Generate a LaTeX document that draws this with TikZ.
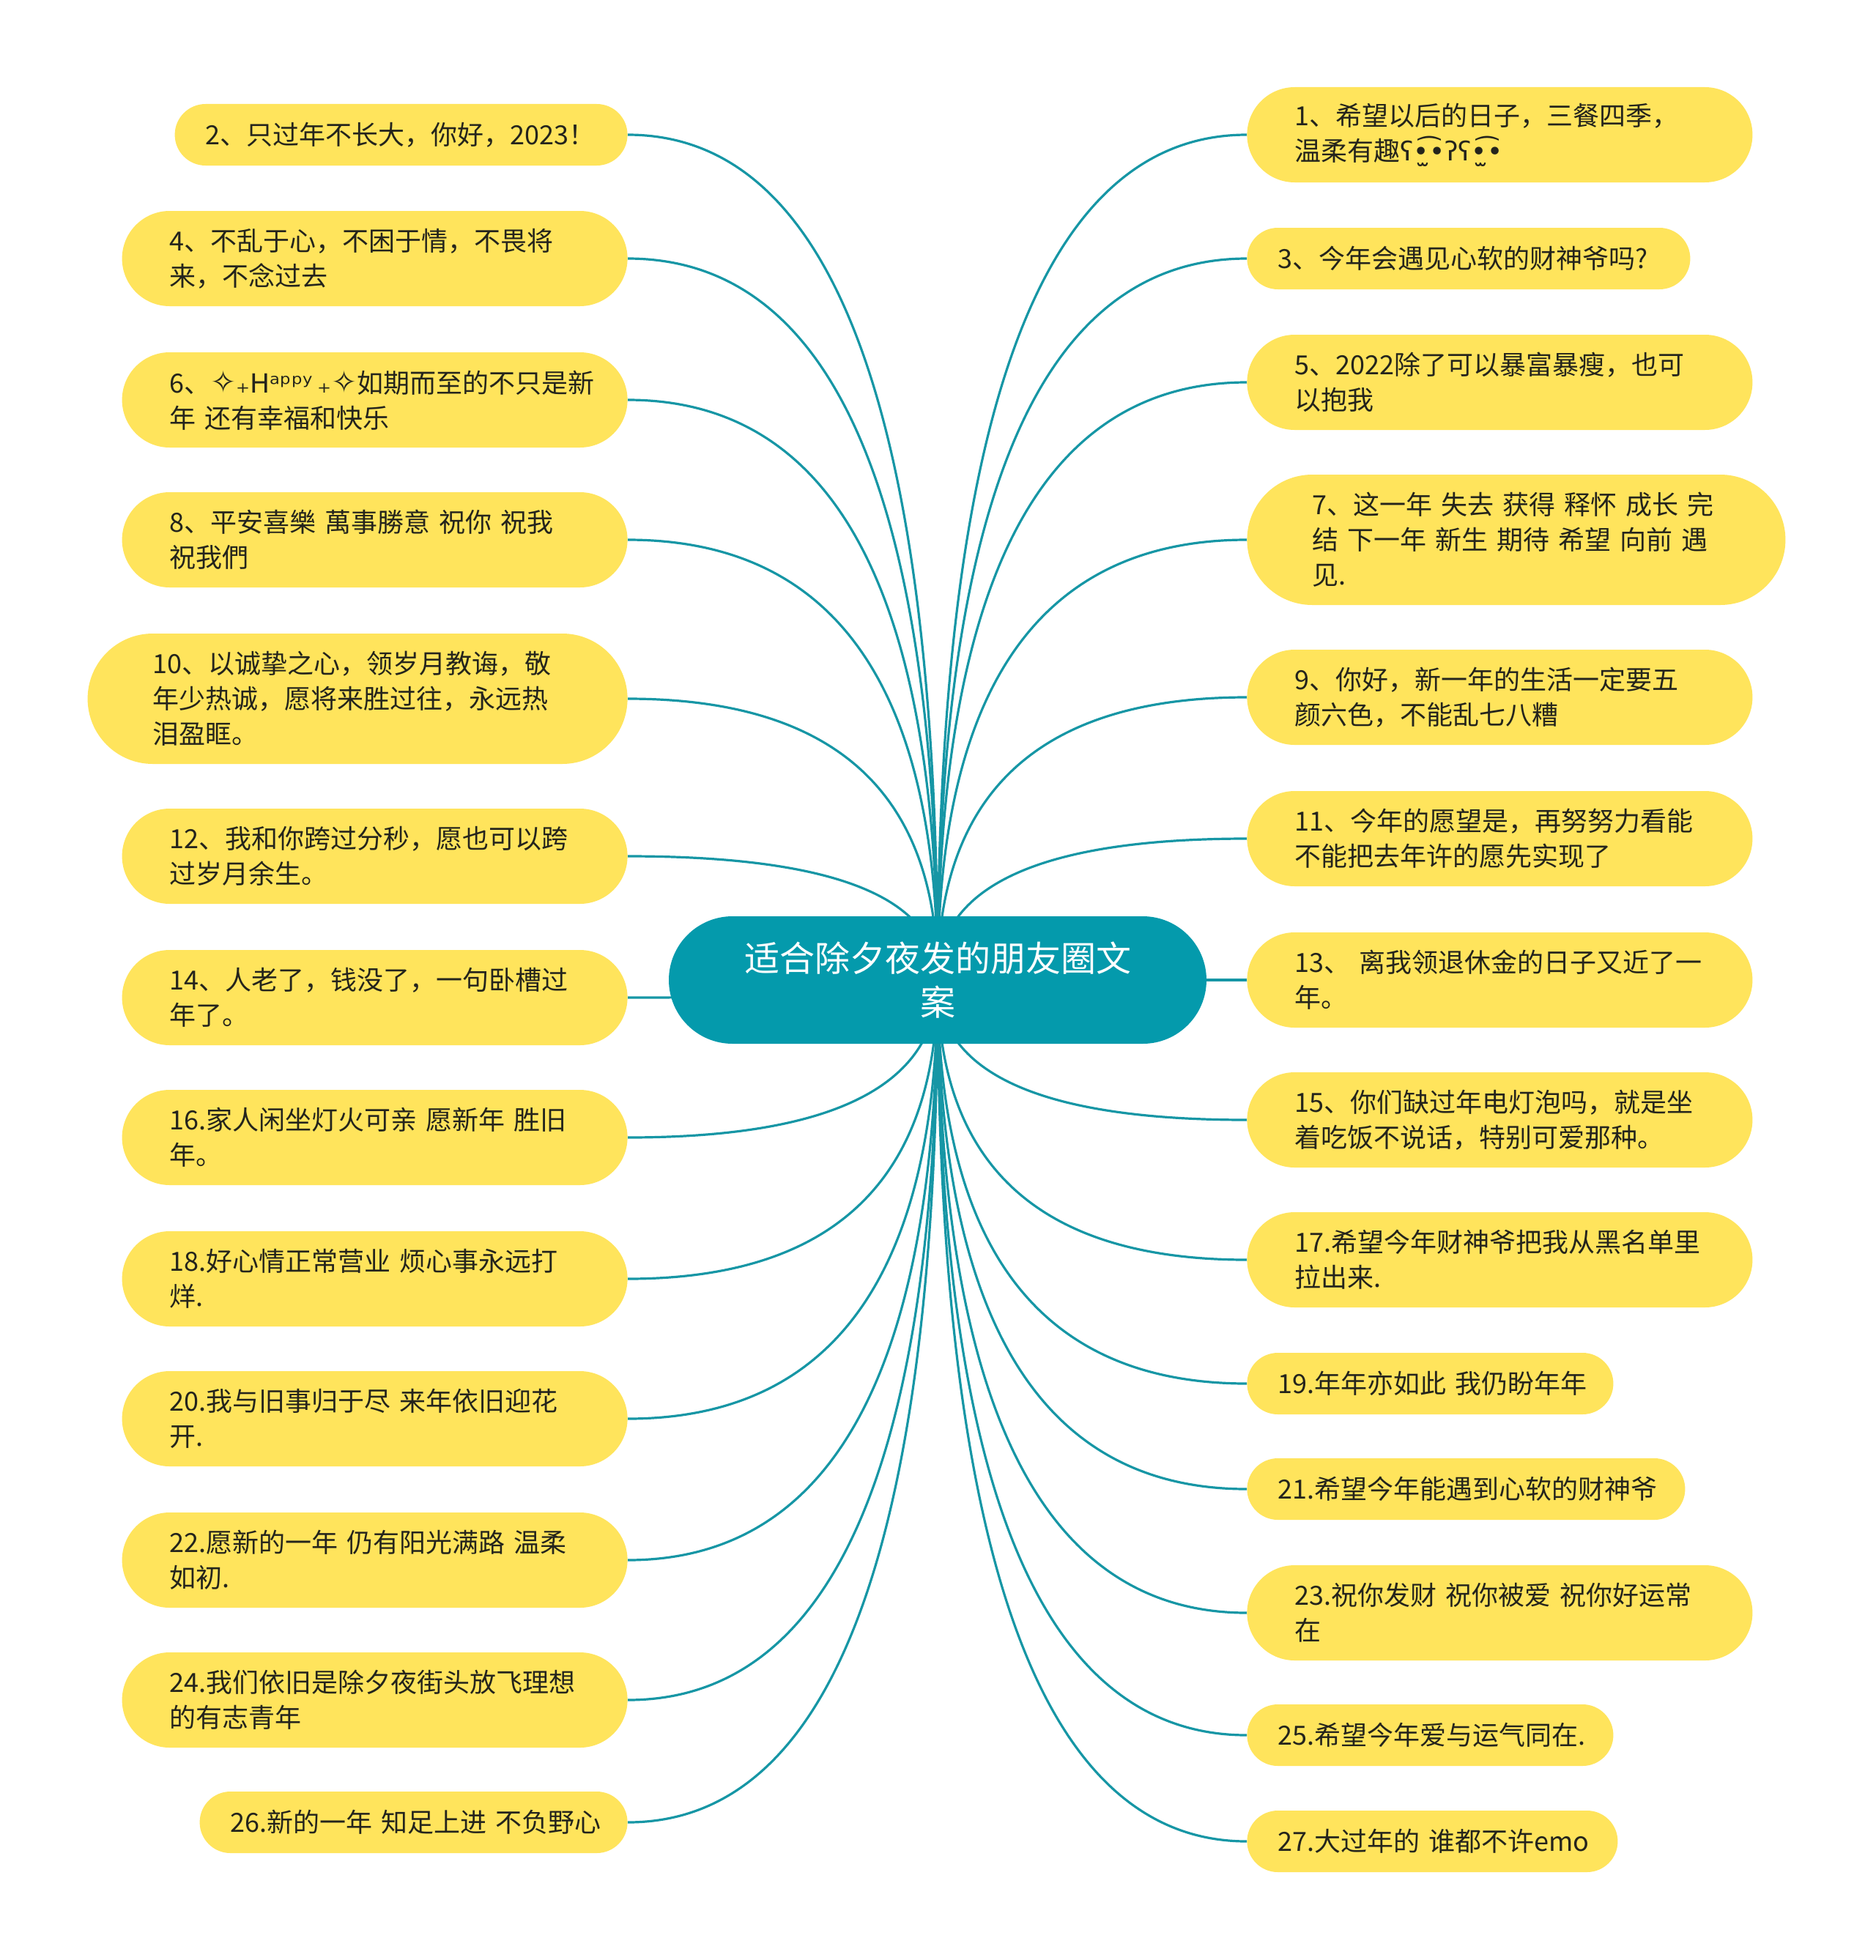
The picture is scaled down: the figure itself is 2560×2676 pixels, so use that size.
\documentclass[tikz,border=0pt]{standalone}
\usepackage{fontspec}
\setmainfont{Noto Sans CJK SC}
\newfontfamily\dejavu{DejaVu Sans}
\usetikzlibrary{calc,backgrounds}
\definecolor{leafyellow}{RGB}{255,228,92}
\definecolor{rootteal}{RGB}{4,154,172}
\definecolor{linkteal}{RGB}{22,150,165}
\definecolor{leaftext}{RGB}{36,36,28}
\tikzset{
  leaf/.style={fill=leafyellow, draw=none, text=leaftext, align=left, inner ysep=0pt,
    font=\fontsize{18}{24}\selectfont},
  rootbox/.style={fill=rootteal, draw=none, text=white, align=center, inner sep=0pt,
    font=\fontsize{24}{30}\selectfont, minimum width=367pt, minimum height=87pt,
    rounded corners=43.5pt},
  link/.style={draw=linkteal, line width=1.6pt}
}
\newcommand\sparkle{{\fontsize{21}{21}\selectfont ✧}}
% #1 name, #2 anchor, #3 x, #4 y, #5 width px, #6 height px, #7 text
\newcommand\mkleaf[7]{%
  \pgfmathsetmacro\lfw{(#5-#6)*0.5}%
  \pgfmathsetmacro\lfh{#6*0.5}%
  \pgfmathsetmacro\lfr{#6*0.25}%
  \node[leaf, anchor=#2, text width=\lfw pt, minimum height=\lfh pt,
    inner xsep=\lfr pt, rounded corners=\lfr pt] (#1) at (#3,#4) {#7};%
}
\newcommand\mklink[2]{%
  \draw[link] (root.center) .. controls ($(root.center)!0.6667!(root.center|-#1.#2)$)
    and ($(#1.#2)!0.6667!(root.center|-#1.#2)$) .. (#1.#2);%
}
\begin{document}
\begin{tikzpicture}[x=0.5pt,y=-0.5pt]
\useasboundingbox (0,0) rectangle (2560,2676);
\node[rootbox] (root) at (1280,1338) {适合除夕夜发的朋友圈文\\案};
% left side
\mkleaf{L2}{east}{857}{184}{618}{84}{2、只过年不长大，你好，2023！}
\mkleaf{L4}{east}{857}{353}{690}{130}{4、不乱于心，不困于情，不畏将\\来，不念过去}
\mkleaf{L6}{east}{857}{546}{690}{130}{6、{\dejavu \sparkle₊Hᵃᵖᵖʸ\,₊\sparkle}如期而至的不只是新\\年~还有幸福和快乐}
\mkleaf{L8}{east}{857}{737}{690}{130}{8、平安喜樂~萬事勝意~祝你~祝我\\祝我們}
\mkleaf{L10}{east}{857}{954}{737}{178}{10、以诚挚之心，领岁月教诲，敬\\年少热诚，愿将来胜过往，永远热\\泪盈眶。}
\mkleaf{L12}{east}{857}{1169}{690}{130}{12、我和你跨过分秒，愿也可以跨\\过岁月余生。}
\mkleaf{L14}{east}{857}{1362}{690}{130}{14、人老了，钱没了，一句卧槽过\\年了。}
\mkleaf{L16}{east}{857}{1553}{690}{130}{16.家人闲坐灯火可亲~愿新年~胜旧\\年。}
\mkleaf{L18}{east}{857}{1746}{690}{130}{18.好心情正常营业~烦心事永远打\\烊.}
\mkleaf{L20}{east}{857}{1937}{690}{130}{20.我与旧事归于尽~来年依旧迎花\\开.}
\mkleaf{L22}{east}{857}{2130}{690}{130}{22.愿新的一年~仍有阳光满路~温柔\\如初.}
\mkleaf{L24}{east}{857}{2321}{690}{130}{24.我们依旧是除夕夜街头放飞理想\\的有志青年}
\mkleaf{L26}{east}{857}{2488}{584}{84}{26.新的一年~知足上进~不负野心}
% right side
\mkleaf{R1}{west}{1702}{184}{690}{130}{1、希望以后的日子，三餐四季，\\温柔有趣{\dejavu ʕ•̫͡•ʔʕ•̫͡•}}
\mkleaf{R3}{west}{1702}{353}{605}{84}{3、今年会遇见心软的财神爷吗?}
\mkleaf{R5}{west}{1702}{522}{690}{130}{5、2022除了可以暴富暴瘦，也可\\以抱我}
\mkleaf{R7}{west}{1702}{737}{735}{178}{7、这一年~失去~获得~释怀~成长~完\\结~下一年~新生~期待~希望~向前~遇\\见.}
\mkleaf{R9}{west}{1702}{952}{690}{130}{9、你好，新一年的生活一定要五\\颜六色，不能乱七八糟}
\mkleaf{R11}{west}{1702}{1145}{690}{130}{11、今年的愿望是，再努努力看能\\不能把去年许的愿先实现了}
\mkleaf{R13}{west}{1702}{1338}{690}{130}{13、~离我领退休金的日子又近了一\\年。}
\mkleaf{R15}{west}{1702}{1529}{690}{130}{15、你们缺过年电灯泡吗，就是坐\\着吃饭不说话，特别可爱那种。}
\mkleaf{R17}{west}{1702}{1720}{690}{130}{17.希望今年财神爷把我从黑名单里\\拉出来.}
\mkleaf{R19}{west}{1702}{1889}{500}{84}{19.年年亦如此~我仍盼年年}
\mkleaf{R21}{west}{1702}{2033}{598}{84}{21.希望今年能遇到心软的财神爷}
\mkleaf{R23}{west}{1702}{2202}{690}{130}{23.祝你发财~祝你被爱~祝你好运常\\在}
\mkleaf{R25}{west}{1702}{2369}{500}{84}{25.希望今年爱与运气同在.}
\mkleaf{R27}{west}{1702}{2514}{506}{84}{27.大过年的~谁都不许emo}
\begin{scope}[on background layer]
\foreach \n in {L2,L4,L6,L8,L10,L12,L14,L16,L18,L20,L22,L24,L26}{\mklink{\n}{east}}
\foreach \n in {R1,R3,R5,R7,R9,R11,R13,R15,R17,R19,R21,R23,R25,R27}{\mklink{\n}{west}}
\end{scope}
\end{tikzpicture}
\end{document}
